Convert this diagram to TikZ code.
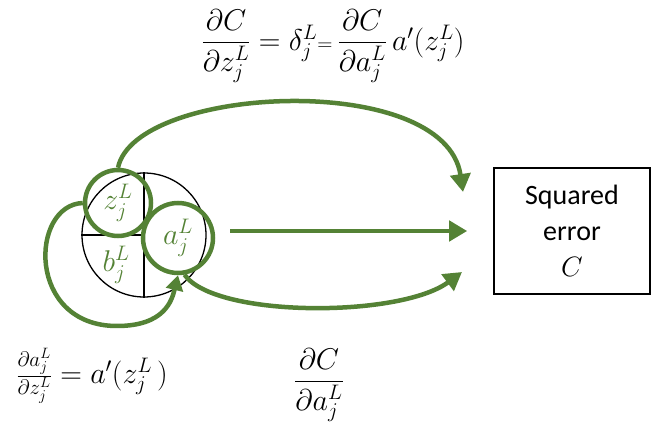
\RequirePackage{fix-cm}
\documentclass[tikz,border=0pt]{standalone}
\usepackage{amsmath}
\usepackage{fontspec}
\newfontfamily\boxfont{Carlito}
\usepackage{tikz}
\usetikzlibrary{positioning,arrows.meta}
\definecolor{leaf}{HTML}{548235}
\tikzset{
  cellbody/.style={shape=circle,draw=black,line width=1.3pt,minimum size=124pt,inner sep=0pt},
  ring/.style={shape=circle,draw=leaf,line width=4.5pt,inner sep=0pt,text=leaf},
  flow/.style={draw=leaf,line width=4.5pt,-{Triangle[length=18pt,width=20pt]}},
  backflow/.style={flow,-{Triangle[length=15pt,width=17pt]}},
  cost/.style={draw=black,line width=1.6pt,minimum width=156pt,minimum height=126pt,align=center,font=\boxfont\fontsize{28}{36}\selectfont},
  formula/.style={font=\fontsize{30}{34}\selectfont}
}

\begin{document}
\begin{tikzpicture}[x=1pt,y=-1pt]
    \useasboundingbox (0,0) rectangle (651,435);
    % neuron j in layer L
    \node[cellbody] (cell) at (144,235) {};
    \draw[line width=1.3pt] (cell.north) -- (cell.south);
    \draw[line width=1.3pt] (cell.west) -- (cell.center);
    \node[formula,text=leaf] (bj) at (116,265) {$b_j^L$};
    \node[ring,formula,minimum size=66pt] (zj) at (118,203) {$z_j^L$};
    \node[ring,formula,minimum size=70pt] (aj) at (178,238) {$a_j^L$};
    % cost
    \node[cost] (cost) at (572,231) {Squared\\error\\$C$};
    \coordinate (topend) at (463,192);
    \coordinate (fwdstart) at (230,231);
    \coordinate[left=26pt of cost.west] (fwdend);
    \coordinate (botend) at (462,272);
    \coordinate (loopbase) at (117,326);
    % arrows
    \draw[flow] (zj.north) .. controls (135,85) and (445,70) .. (topend);
    \draw[flow] (fwdstart) -- (fwdend);
    \draw[flow] (aj.-80) .. controls (215,318) and (400,318) .. (botend);
    \draw[backflow] (zj.west) .. controls (30,205) and (26,326) .. (loopbase)
      .. controls (165,326) and (172,300) .. (aj.south);
    % labels
    \node[formula] (dcdz) at (333,46) {$\dfrac{\partial C}{\partial z_j^L} = \delta_j^L{\scriptstyle =}\,\dfrac{\partial C}{\partial a_j^L}\,a'(z_j^L)$};
    \node[formula] (dadz) at (92,376) {$\frac{\partial a_j^L}{\partial z_j^L} = a'(z_j^L\,)$};
    \node[formula] (dcda) at (319,385) {$\dfrac{\partial C}{\partial a_j^L}$};
\end{tikzpicture}
\end{document}
